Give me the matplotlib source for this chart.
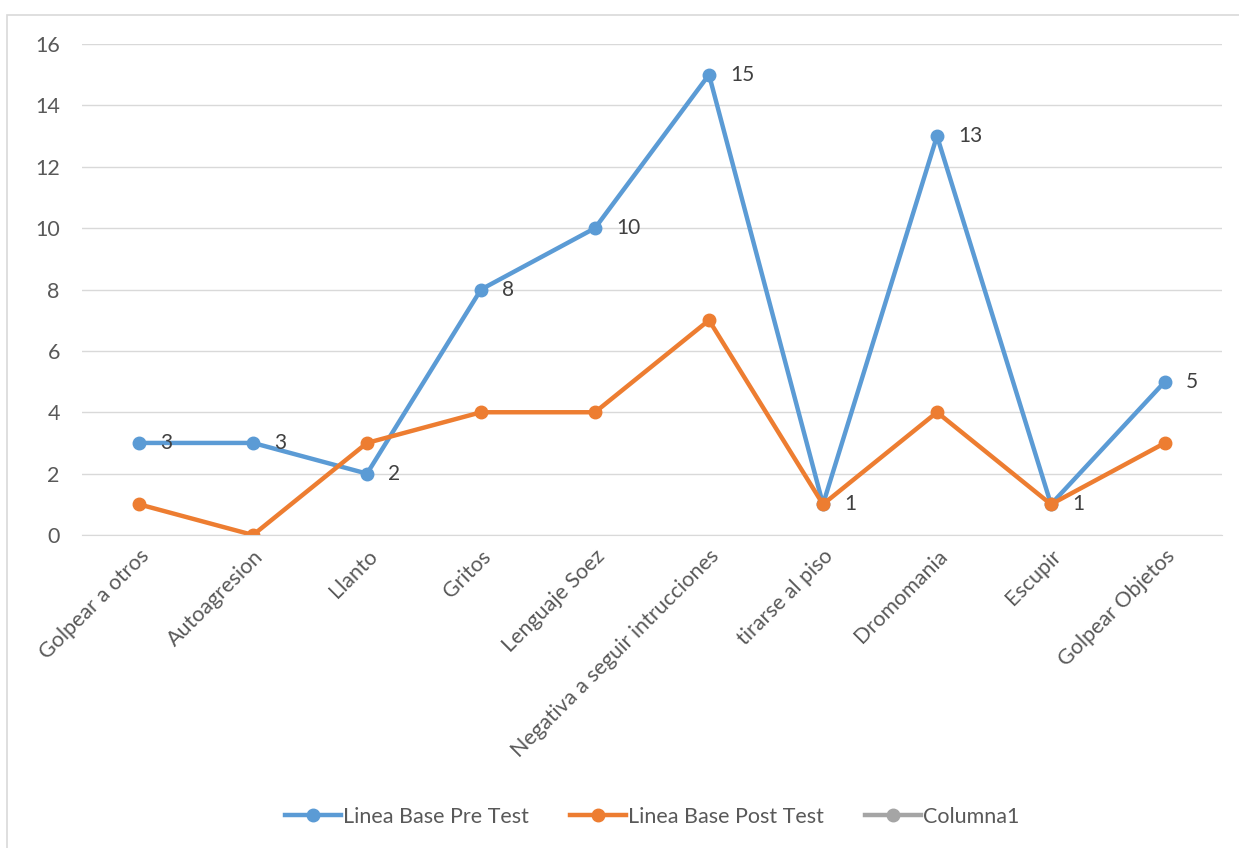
import matplotlib.pyplot as plt
from matplotlib.patches import Rectangle

# datos
categorias = ["Golpear a otros", "Autoagresion", "Llanto", "Gritos", "Lenguaje Soez",
              "Negativa a seguir intrucciones", "tirarse al piso", "Dromomania",
              "Escupir", "Golpear Objetos"]
pre_test = [3, 3, 2, 8, 10, 15, 1, 13, 1, 5]
post_test = [1, 0, 3, 4, 4, 7, 1, 4, 1, 3]
columna1 = []

plt.rcParams['font.family'] = ['Lato', 'DejaVu Sans']

fig = plt.figure(figsize=(12.39, 8.48), dpi=100)
# borde del grafico
fig.patches.append(Rectangle((7/1239, -0.1), 1.2, 833/848 + 0.1, transform=fig.transFigure,
                             fill=False, edgecolor='#d9d9d9', linewidth=1.2))

ax = fig.add_axes([82/1239, 313/848, 1140/1239, 491/848])
x = list(range(len(categorias)))

ax.plot(x, pre_test, color='#5B9BD5', lw=3.2, marker='o', ms=9, label='Linea Base Pre Test')
ax.plot(x, post_test, color='#ED7D31', lw=3.2, marker='o', ms=9, label='Linea Base Post Test')
ax.plot(columna1, columna1, color='#A5A5A5', lw=3.2, marker='o', ms=9, label='Columna1')

for xi, v in zip(x, pre_test):
    ax.annotate(str(v), (xi, v), xytext=(15, 0), textcoords='offset points',
                va='center', ha='left', fontsize=15, color='#404040')

ax.set_xlim(-0.5, len(categorias) - 0.5)
ax.set_ylim(0, 16)
ax.set_yticks(range(0, 17, 2))
ax.set_xticks(x)
ax.set_xticklabels(categorias, rotation=45, ha='right', rotation_mode='anchor')
ax.tick_params(axis='both', length=0, labelsize=15.5, colors='#595959', pad=16)
ax.tick_params(axis='x', pad=8)
ax.grid(axis='y', color='#d9d9d9', lw=1)
ax.set_axisbelow(True)
for s in ['top', 'right', 'left']:
    ax.spines[s].set_visible(False)
ax.spines['bottom'].set_color('#d9d9d9')

ax.legend(loc='center', bbox_to_anchor=(0.5, -0.574), ncol=3, frameon=False,
          fontsize=15.5, labelcolor='#595959', handlelength=2.6, handletextpad=0.1,
          columnspacing=1.9)

fig.savefig('out.png', dpi=100)
